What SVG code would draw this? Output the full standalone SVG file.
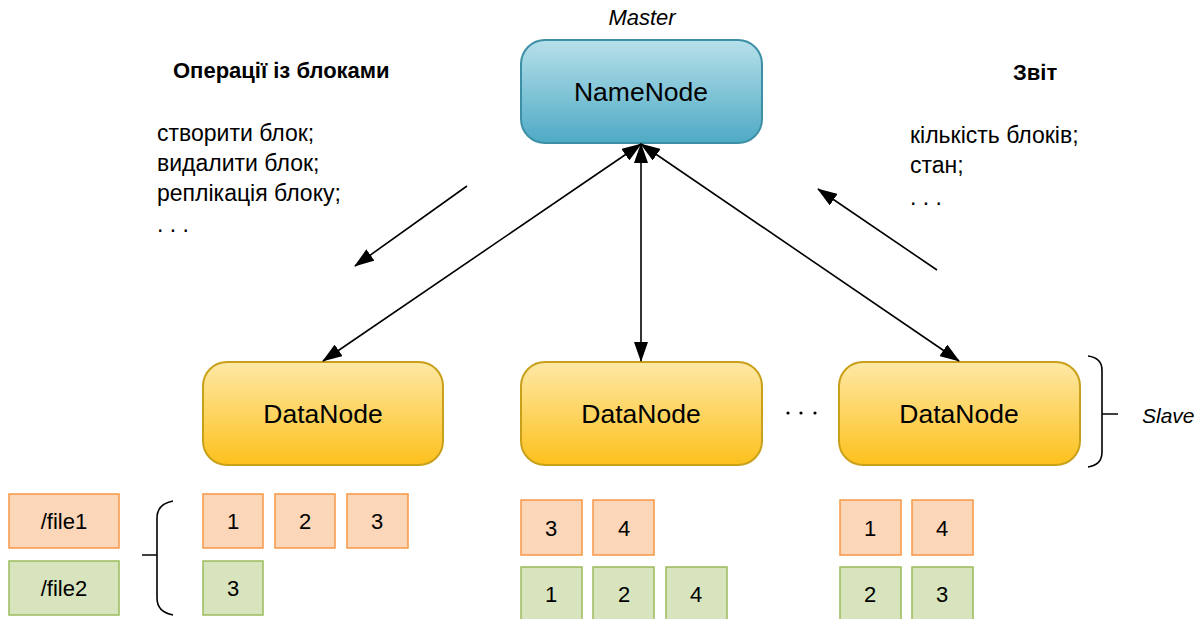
<svg xmlns="http://www.w3.org/2000/svg" width="1200" height="619" viewBox="0 0 1200 619">
<style>
text{font-family:"Liberation Sans",Arial,sans-serif;fill:#000}
.t{font-size:23px}
.b{font-size:22px;font-weight:bold}
.i{font-size:22px;font-style:italic}
.n{font-size:26.5px;text-anchor:middle}
.k{font-size:22px;text-anchor:middle}
.ln{stroke:#000;stroke-width:1.6;fill:none}
.or{fill:#fbd6b8;stroke:#f79646;stroke-width:1.5}
.gr{fill:#d7e4bd;stroke:#9bbb59;stroke-width:1.5}
.dn{fill:url(#gy);stroke:#c9a01a;stroke-width:2}
</style>
<defs>
<linearGradient id="gb" x1="0" y1="0" x2="0" y2="1"><stop offset="0" stop-color="#b7e0ea"/><stop offset="1" stop-color="#4eaac5"/></linearGradient>
<linearGradient id="gy" x1="0" y1="0" x2="0" y2="1"><stop offset="0" stop-color="#fee8a6"/><stop offset="1" stop-color="#fdc11c"/></linearGradient>
<marker id="ahl" markerWidth="20" markerHeight="14" viewBox="0 0 20 14" refX="19" refY="7" orient="auto-start-reverse" markerUnits="userSpaceOnUse"><path d="M0,0 L20,7 L0,14 z" fill="#000"/></marker>
</defs>
<text class="i" x="642" y="25" text-anchor="middle">Master</text>
<g id="namenode"><rect x="521" y="40" width="241" height="103" rx="24" fill="url(#gb)" stroke="#3d8fa6" stroke-width="2"/><text class="n" x="641" y="101">NameNode</text></g>
<g id="datanode1"><rect x="203" y="362" width="240" height="103" rx="24" class="dn"/><text class="n" x="323" y="423">DataNode</text></g>
<g id="datanode2"><rect x="521" y="362" width="241" height="103" rx="24" class="dn"/><text class="n" x="641" y="423">DataNode</text></g>
<g id="datanode3"><rect x="839" y="362" width="241" height="103" rx="24" class="dn"/><text class="n" x="959" y="423">DataNode</text></g>
<g id="connectors">
<line class="ln" x1="641" y1="144" x2="323" y2="361" marker-start="url(#ahl)" marker-end="url(#ahl)"/>
<line class="ln" x1="641" y1="144" x2="641" y2="361" marker-start="url(#ahl)" marker-end="url(#ahl)"/>
<line class="ln" x1="641" y1="144" x2="959" y2="361" marker-start="url(#ahl)" marker-end="url(#ahl)"/>
<line class="ln" x1="467" y1="186" x2="355" y2="266" marker-end="url(#ahl)"/>
<line class="ln" x1="937" y1="270" x2="818" y2="189" marker-end="url(#ahl)"/>
</g>
<g id="ops">
<text class="b" x="173" y="78">Операції із блоками</text>
<text class="t" x="157" y="141">створити блок;</text>
<text class="t" x="157" y="171">видалити блок;</text>
<text class="t" x="157" y="201">реплікація блоку;</text>
<text class="t" x="157" y="232">. . .</text>
</g>
<g id="report">
<text class="b" x="1013" y="80">Звіт</text>
<text class="t" x="910" y="143">кількість блоків;</text>
<text class="t" x="910" y="173">стан;</text>
<text class="t" x="910" y="205">. . .</text>
</g>
<g id="dots"><circle cx="788" cy="413" r="1.6"/><circle cx="801" cy="413" r="1.6"/><circle cx="815" cy="413" r="1.6"/></g>
<g id="slave">
<path class="ln" d="M1088,356 Q1102,358 1102,370 L1102,452 Q1102,465 1088,467 M1102,414 L1118,414" stroke-width="1.4"/>
<text class="i" x="1142" y="423" style="font-size:21px">Slave</text>
</g>
<g id="files">
<rect class="or" x="9" y="494" width="110" height="54"/><text class="k" x="64" y="529">/file1</text>
<rect class="gr" x="9" y="561" width="110" height="54"/><text class="k" x="64" y="596">/file2</text>
<path class="ln" d="M173,501 Q157,504 157,518 L157,598 Q157,612 173,615 M142,555 L157,555" stroke-width="1.4"/>
</g>
<g id="blocks1">
<rect class="or" x="203" y="494" width="60" height="54"/><text class="k" x="233" y="529">1</text>
<rect class="or" x="275" y="494" width="60" height="54"/><text class="k" x="305" y="529">2</text>
<rect class="or" x="347" y="494" width="61" height="54"/><text class="k" x="377" y="529">3</text>
<rect class="gr" x="203" y="561" width="60" height="54"/><text class="k" x="233" y="596">3</text>
</g>
<g id="blocks2">
<rect class="or" x="521" y="500" width="61" height="55"/><text class="k" x="551" y="536">3</text>
<rect class="or" x="593" y="500" width="61" height="55"/><text class="k" x="624" y="536">4</text>
<rect class="gr" x="521" y="567" width="61" height="60"/><text class="k" x="551" y="602">1</text>
<rect class="gr" x="593" y="567" width="61" height="60"/><text class="k" x="624" y="602">2</text>
<rect class="gr" x="666" y="567" width="61" height="60"/><text class="k" x="696" y="602">4</text>
</g>
<g id="blocks3">
<rect class="or" x="840" y="500" width="61" height="55"/><text class="k" x="870" y="536">1</text>
<rect class="or" x="912" y="500" width="61" height="55"/><text class="k" x="942" y="536">4</text>
<rect class="gr" x="840" y="567" width="61" height="60"/><text class="k" x="870" y="602">2</text>
<rect class="gr" x="912" y="567" width="61" height="60"/><text class="k" x="942" y="602">3</text>
</g>
</svg>
